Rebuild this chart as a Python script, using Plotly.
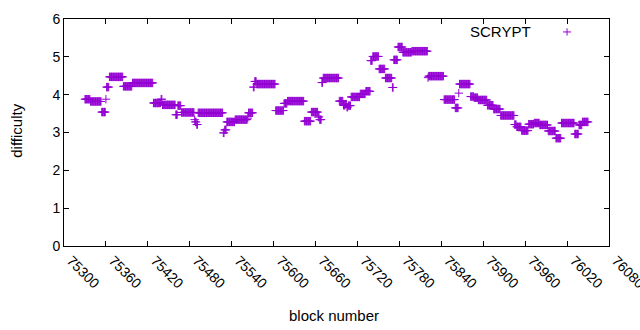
import plotly.graph_objects as go

# Runs of constant difficulty (first block, last block, difficulty)
run_start = [75330, 75338, 75354, 75360, 75361, 75365, 75385, 75398, 75428, 75439,
             75441, 75460, 75463, 75468, 75487, 75488, 75490, 75492, 75528, 75530,
             75533, 75545, 75563, 75564, 75571, 75573, 75576, 75603, 75615, 75620,
             75644, 75654, 75664, 75666, 75669, 75671, 75694, 75700, 75703, 75705,
             75707, 75711, 75724, 75732, 75739, 75742, 75751, 75760, 75770, 75772,
             75778, 75785, 75798, 75821, 75822, 75844, 75860, 75865, 75866, 75882,
             75887, 75893, 75906, 75915, 75925, 75945, 75948, 75955, 75965, 75973,
             75981, 75993, 76004, 76012, 76031, 76037, 76042]
run_end = [75337, 75353, 75359, 75360, 75364, 75384, 75397, 75427, 75438, 75440,
           75459, 75462, 75467, 75486, 75487, 75489, 75491, 75527, 75529, 75532,
           75544, 75562, 75563, 75570, 75572, 75575, 75602, 75614, 75619, 75643,
           75653, 75663, 75665, 75668, 75670, 75693, 75699, 75702, 75704, 75706,
           75710, 75723, 75731, 75738, 75741, 75750, 75759, 75769, 75771, 75777,
           75784, 75797, 75820, 75821, 75843, 75859, 75864, 75865, 75881, 75886,
           75892, 75905, 75914, 75924, 75944, 75947, 75954, 75964, 75972, 75980,
           75992, 76003, 76011, 76030, 76036, 76041, 76050]
run_difficulty = [3.88, 3.82, 3.54, 3.88, 4.20, 4.47, 4.22, 4.31, 3.78, 3.88,
                  3.73, 3.47, 3.71, 3.53, 3.34, 3.28, 3.21, 3.52, 2.99, 3.07,
                  3.28, 3.34, 3.38, 3.52, 4.20, 4.35, 4.28, 3.58, 3.77, 3.83,
                  3.30, 3.54, 3.41, 3.34, 4.32, 4.44, 3.83, 3.72, 3.75, 3.67,
                  3.71, 3.94, 4.02, 4.09, 4.90, 5.01, 4.68, 4.44, 4.19, 4.92,
                  5.26, 5.12, 5.15, 4.45, 4.49, 3.87, 3.65, 4.04, 4.28, 3.95,
                  3.92, 3.86, 3.72, 3.62, 3.45, 3.21, 3.15, 3.05, 3.22, 3.25,
                  3.20, 3.04, 2.85, 3.25, 2.96, 3.20, 3.28]

x_ticks = [75300, 75360, 75420, 75480, 75540, 75600, 75660, 75720,
           75780, 75840, 75900, 75960, 76020, 76080]
y_ticks = [0, 1, 2, 3, 4, 5, 6]
series_name = "SCRYPT"
x_title = "block number"
y_title = "difficulty"

blocks, diffs = [], []
for s, e, d in zip(run_start, run_end, run_difficulty):
    for b in range(s, e + 1):
        blocks.append(b)
        diffs.append(d)

COLOR = "#9400D3"
FONT = "Liberation Sans"

fig = go.Figure()
fig.add_trace(go.Scatter(
    x=blocks, y=diffs, mode="markers", name=series_name, showlegend=False,
    marker=dict(symbol="cross-thin", size=6, color=COLOR,
                line=dict(color=COLOR, width=1)),
    hoverinfo="skip",
))

axis_common = dict(showgrid=False, zeroline=False, showline=True, linecolor="black",
                   linewidth=1, mirror="ticks", ticks="inside", ticklen=5,
                   tickcolor="black", automargin=False, ticklabeloverflow="allow",
                   tickfont=dict(family=FONT, size=14, color="black"))

fig.update_xaxes(range=[75300, 76080], tickvals=x_ticks,
                 ticktext=[str(v) for v in x_ticks], tickangle=45, ticklabelshift=7,
                 **axis_common)
fig.update_yaxes(range=[0, 6], tickvals=y_ticks, ticktext=[str(v) for v in y_ticks],
                 **axis_common)

# axis titles placed as in the reference
fig.add_annotation(xref="paper", yref="paper", x=0.495, y=-0.307, text=x_title,
                   showarrow=False, xanchor="center", yanchor="middle",
                   font=dict(family=FONT, size=15, color="black"))
fig.add_annotation(xref="paper", yref="paper", x=-0.087, y=0.506, text=y_title,
                   showarrow=False, xanchor="center", yanchor="middle", textangle=-90,
                   font=dict(family=FONT, size=15, color="black"))

# legend drawn gnuplot-style: text then sample symbol
fig.add_annotation(xref="paper", yref="paper", x=0.861, y=0.943, text=series_name,
                   showarrow=False, xanchor="right", yanchor="middle",
                   font=dict(family=FONT, size=15, color="black"))
lx, ly = 0.923, 0.943
fig.add_shape(type="line", xref="paper", yref="paper", x0=lx - 0.0075, x1=lx + 0.0075,
              y0=ly, y1=ly, line=dict(color=COLOR, width=1))
fig.add_shape(type="line", xref="paper", yref="paper", x0=lx, x1=lx,
              y0=ly - 0.016, y1=ly + 0.016, line=dict(color=COLOR, width=1))

fig.update_layout(width=640, height=330, margin=dict(l=64, r=31, t=19, b=84),
                  plot_bgcolor="white", paper_bgcolor="white", hovermode=False,
                  font=dict(family=FONT, size=14, color="black"))

fig.write_html("out.html", config={"displayModeBar": False},
               post_script="document.body.style.margin='0px';")
